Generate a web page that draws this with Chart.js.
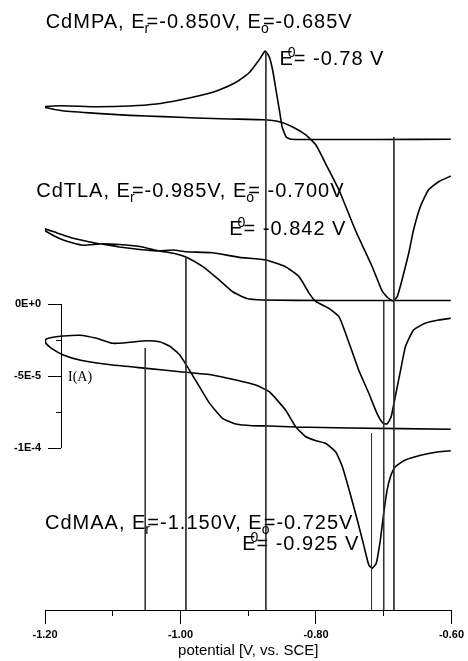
<!DOCTYPE html>
<html>
<head>
<meta charset="utf-8">
<script src="https://cdn.jsdelivr.net/npm/chart.js@4.4.0/dist/chart.umd.min.js"></script>
<style>
  html, body { margin: 0; padding: 0; background: #fff; }
  #wrap { width: 468px; height: 661px; }
</style>
</head>
<body>
<div id="wrap"><canvas id="cv" width="468" height="661"></canvas></div>
<script>
// potential axis, V vs. SCE
const xTicks = [-1.2, -1.0, -0.8, -0.6];
const xMinorTicks = [-1.1, -0.9, -0.7];
const xTitle = 'potential [V, vs. SCE]';

// current scale bar (values in uA, labelled in A)
const yTicks = [0, -50, -100];
const yTickLabels = ['0E+0', '-5E-5', '-1E-4'];
const yMinorTicks = [-25, -75];
const yTitle = 'I(A)';
const barV = -1.1765;   // where the scale bar stands
const yMin = -212.5, yMax = 200;

// CdMPA loop (curves are stacked, current includes offset, uA)
const mpaV = [-0.601,-0.707,-0.796,-0.837,-0.844,-0.850,-0.854,-0.859,-0.864,-0.869,-0.875,-0.884,-0.899,-0.918,-0.943,-0.968,-1.001,-1.036,-1.075,-1.124,-1.174,-1.199,-1.199,-1.174,-1.124,-1.075,-1.026,-0.977,-0.928,-0.879,-0.854,-0.835,-0.815,-0.800,-0.786,-0.766,-0.742,-0.717,-0.703,-0.693,-0.686,-0.680,-0.673,-0.663,-0.656,-0.646,-0.634,-0.619,-0.601];
const mpaI = [114.4,114.2,114.2,114.4,116.0,123.1,134.7,148.6,162.5,171.7,175.7,169.4,160.4,154.0,148.6,145.1,141.7,138.9,137.5,137.0,137.7,137.2,136.5,134.2,132.4,131.0,130.1,129.2,128.5,128.0,126.6,123.1,117.4,110.4,97.7,79.2,51.4,25.9,9.7,4.0,2.1,5.1,16.7,35.4,51.4,67.6,79.2,84.9,88.9];

// CdTLA loop
const tlaV = [-0.601,-0.781,-0.879,-0.903,-0.923,-0.943,-0.967,-0.992,-1.009,-1.031,-1.060,-1.090,-1.119,-1.144,-1.173,-1.200,-1.201,-1.183,-1.158,-1.134,-1.112,-1.090,-1.060,-1.036,-1.011,-0.992,-0.953,-0.913,-0.874,-0.845,-0.825,-0.810,-0.800,-0.781,-0.766,-0.751,-0.737,-0.722,-0.710,-0.701,-0.695,-0.689,-0.683,-0.675,-0.668,-0.656,-0.639,-0.619,-0.601];
const tlaI = [2.4,2.4,2.8,4.0,8.5,16.7,25.9,32.6,35.1,36.8,39.9,41.3,41.7,40.8,44.4,50.9,52.3,49.5,45.6,43.1,41.3,39.6,37.8,36.8,37.5,36.3,35.6,32.4,30.6,25.9,19.0,7.4,1.6,-3.0,-8.8,-27.3,-45.8,-62.0,-75.9,-82.8,-83.3,-78.3,-64.4,-45.8,-29.7,-18.1,-13.4,-11.1,-9.9];

// CdMAA loop
const maaV = [-0.601,-0.751,-0.830,-0.869,-0.894,-0.918,-0.938,-0.957,-0.972,-0.987,-1.001,-1.016,-1.031,-1.050,-1.075,-1.100,-1.124,-1.149,-1.173,-1.188,-1.199,-1.199,-1.188,-1.173,-1.149,-1.100,-1.050,-1.001,-0.953,-0.918,-0.889,-0.869,-0.845,-0.830,-0.815,-0.800,-0.786,-0.771,-0.761,-0.751,-0.739,-0.729,-0.722,-0.717,-0.711,-0.705,-0.700,-0.695,-0.690,-0.683,-0.668,-0.644,-0.619,-0.601];
const maaI = [-87.0,-86.1,-85.4,-84.7,-84.5,-83.3,-79.4,-69.0,-57.4,-45.8,-35.4,-29.2,-26.2,-25.5,-26.6,-27.3,-23.8,-21.7,-22.2,-23.1,-24.5,-27.1,-31.5,-35.4,-38.9,-42.4,-44.7,-47.0,-49.3,-52.8,-56.3,-60.9,-73.6,-85.2,-92.2,-94.9,-96.7,-102.6,-113.0,-129.2,-150.0,-168.5,-181.3,-183.5,-180.1,-163.9,-145.3,-129.2,-119.9,-113.0,-108.3,-104.9,-102.6,-101.9];

// peak potential markers, dropped to the axis
const dropV = [-0.874, -0.685, -0.992, -0.700, -1.052, -0.718];
const dropTop = [175.0, 116.0, 32.6, 2.1, -30.6, -89.6];

// annotations
const noteText = [
  'CdMPA, E_{r}=-0.850V, E_{o}=-0.685V',
  'E^{0}= -0.78 V',
  'CdTLA, E_{r}=-0.985V, E_{o}= -0.700V',
  'E^{0}= -0.842 V',
  'CdMAA, E_{r}=-1.150V, E_{o}=-0.725V',
  'E^{0}= -0.925 V'
];
const noteV = [-1.199, -0.854, -1.213, -0.928, -1.200, -0.909];
const noteI = [191.7, 166.0, 74.3, 47.9, -156.3, -170.8];
const yTitleV = -1.166, yTitleI = -50.7;

const FONT = '"Liberation Sans", Arial, sans-serif';
Chart.defaults.font.family = FONT;
Chart.defaults.color = '#000';

const toPts = (xs, ys) => xs.map((v, i) => ({ x: v, y: ys[i] }));
const curve = (xs, ys) => ({
  data: toPts(xs, ys), showLine: true, borderColor: '#000', borderWidth: 1.6,
  pointRadius: 0, tension: 0.15, fill: false
});

const datasets = dropV.map((v, i) => ({
  data: [{ x: v, y: dropTop[i] }, { x: v, y: yMin }], showLine: true,
  borderColor: '#333', borderWidth: 1, pointRadius: 0
}));
datasets.push(curve(mpaV, mpaI), curve(tlaV, tlaI), curve(maaV, maaI));

function drawRich(ctx, str, px, py, size) {
  const parts = str.split(/(_\{[^}]*\}|\^\{[^}]*\})/).filter(s => s);
  const base = size + 'px ' + FONT;
  const small = Math.round(size * 0.7) + 'px ' + FONT;
  let cx = px;
  parts.forEach(p => {
    if (p[0] === '_' || p[0] === '^') {
      const t = p.slice(2, -1);
      ctx.font = small;
      if (p[0] === '_') { ctx.fillText(t, cx - 1, py + 5); cx += 1; }
      else ctx.fillText(t, cx - 6, py - 8);
    } else {
      ctx.font = base;
      ctx.fillText(p, cx, py);
      cx += ctx.measureText(p).width;
    }
  });
}

const annotate = {
  id: 'annotate',
  afterDraw(chart) {
    const { ctx } = chart;
    const x = chart.scales.x, y = chart.scales.y;
    ctx.save();
    // scale bar spine
    const bx = Math.round(x.getPixelForValue(barV)) + 0.5;
    ctx.strokeStyle = '#000';
    ctx.lineWidth = 1;
    ctx.beginPath();
    ctx.moveTo(bx, y.getPixelForValue(yTicks[0]));
    ctx.lineTo(bx, y.getPixelForValue(yTicks[yTicks.length - 1]));
    ctx.stroke();

    ctx.fillStyle = '#000';
    ctx.textBaseline = 'alphabetic';
    ctx.textAlign = 'left';
    ctx.letterSpacing = '1px';
    noteText.forEach((t, i) => {
      drawRich(ctx, t, x.getPixelForValue(noteV[i]), y.getPixelForValue(noteI[i]), 20);
    });
    ctx.letterSpacing = '0px';
    ctx.font = '14px "Liberation Serif", "Times New Roman", serif';
    ctx.textBaseline = 'middle';
    ctx.fillText(yTitle, x.getPixelForValue(yTitleV), y.getPixelForValue(yTitleI));
    ctx.restore();
  }
};

const tickFont = { size: 11, weight: 'bold' };

new Chart(document.getElementById('cv'), {
  type: 'scatter',
  data: { datasets },
  options: {
    responsive: false,
    animation: false,
    events: [],
    devicePixelRatio: 1,
    layout: { padding: { top: 16, left: 45, right: 15, bottom: 0 } },
    plugins: { legend: { display: false }, tooltip: { enabled: false } },
    scales: {
      x: {
        type: 'linear', position: 'bottom', min: -1.2, max: -0.6,
        afterBuildTicks: s => { s.ticks = xTicks.map(v => ({ value: v })); },
        afterFit: s => { s.height = 51; },
        ticks: { font: tickFont, padding: 4, callback: v => v.toFixed(2), maxRotation: 0 },
        grid: { drawOnChartArea: false, tickLength: 14, color: '#000', lineWidth: 1 },
        border: { display: true, color: '#000', width: 1 },
        title: { display: true, text: xTitle, font: { size: 15 }, padding: { top: 2, bottom: 1 } }
      },
      xm: {
        axis: 'x', type: 'linear', position: { y: yMin }, min: -1.2, max: -0.6,
        afterBuildTicks: s => { s.ticks = xMinorTicks.map(v => ({ value: v })); },
        ticks: { display: false },
        grid: { drawOnChartArea: false, tickLength: 6, color: '#000', lineWidth: 1 },
        border: { display: false }
      },
      y: {
        axis: 'y', type: 'linear', position: { x: barV }, min: yMin, max: yMax,
        afterBuildTicks: s => { s.ticks = yTicks.map(v => ({ value: v })); },
        ticks: { display: false },
        grid: { drawOnChartArea: false, tickLength: 13, color: '#000', lineWidth: 1 },
        border: { display: false }
      },
      ym: {
        axis: 'y', type: 'linear', position: { x: barV }, min: yMin, max: yMax,
        afterBuildTicks: s => { s.ticks = yMinorTicks.map(v => ({ value: v })); },
        ticks: { display: false },
        grid: { drawOnChartArea: false, tickLength: 5, color: '#000', lineWidth: 1 },
        border: { display: false }
      },
      yl: {
        axis: 'y', type: 'linear', position: { x: -1.2059 }, min: yMin, max: yMax,
        afterBuildTicks: s => { s.ticks = yTicks.map(v => ({ value: v })); },
        ticks: { font: tickFont, callback: v => yTickLabels[yTicks.indexOf(v)] },
        grid: { display: false },
        border: { display: false }
      }
    }
  },
  plugins: [annotate]
});
</script>
</body>
</html>
